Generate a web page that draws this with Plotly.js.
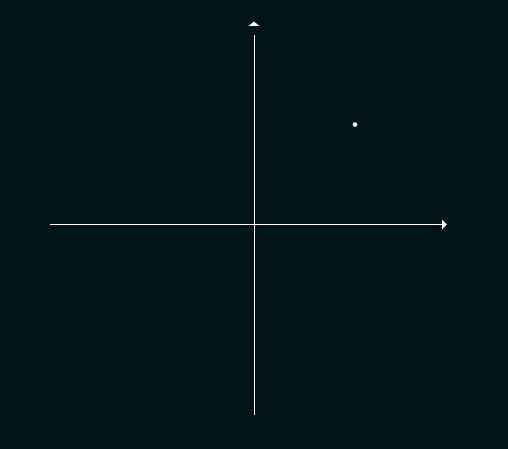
<!DOCTYPE html>
<html>
<head>
<meta charset="utf-8">
<script src="https://cdn.plot.ly/plotly-3.0.1.min.js"></script>
<style>html,body{margin:0;padding:0;background:#011418;}#chart{width:508px;height:449px;}</style>
</head>
<body>
<div id="chart"></div>
<script>
// Data
var pointX = [1];
var pointY = [1];
var xRange = [-2.0198, 1.8614];
var yRange = [-1.905, 1.895];

var bg = '#011418';

var trace = {
  x: pointX,
  y: pointY,
  type: 'scatter',
  mode: 'markers',
  marker: {color: '#ffffff', size: 4.5, symbol: 'circle', line: {width: 0}},
  hoverinfo: 'none',
  cliponaxis: false
};

var axisCommon = {
  showgrid: false,
  showticklabels: false,
  ticks: '',
  showline: false,
  zeroline: true,
  zerolinecolor: '#ffffff',
  zerolinewidth: 1,
  fixedrange: true
};

var layout = {
  width: 508,
  height: 449,
  margin: {l: 50, r: 66, t: 35, b: 34, pad: 0},
  paper_bgcolor: bg,
  plot_bgcolor: bg,
  showlegend: false,
  xaxis: Object.assign({range: xRange}, axisCommon),
  yaxis: Object.assign({range: yRange}, axisCommon),
  shapes: [
    {
      type: 'path', xref: 'x', yref: 'paper',
      xsizemode: 'pixel', ysizemode: 'pixel',
      xanchor: 0, yanchor: 1,
      path: 'M -5.5,9 L 5.5,9 L 0,13.5 Z',
      fillcolor: '#ffffff', line: {width: 0}
    },
    {
      type: 'path', xref: 'paper', yref: 'y',
      xsizemode: 'pixel', ysizemode: 'pixel',
      xanchor: 1, yanchor: 0,
      path: 'M 0,-5 L 0,5 L 5,0 Z',
      fillcolor: '#ffffff', line: {width: 0}
    }
  ]
};

Plotly.newPlot('chart', [trace], layout, {displayModeBar: false, staticPlot: true});
</script>
</body>
</html>
